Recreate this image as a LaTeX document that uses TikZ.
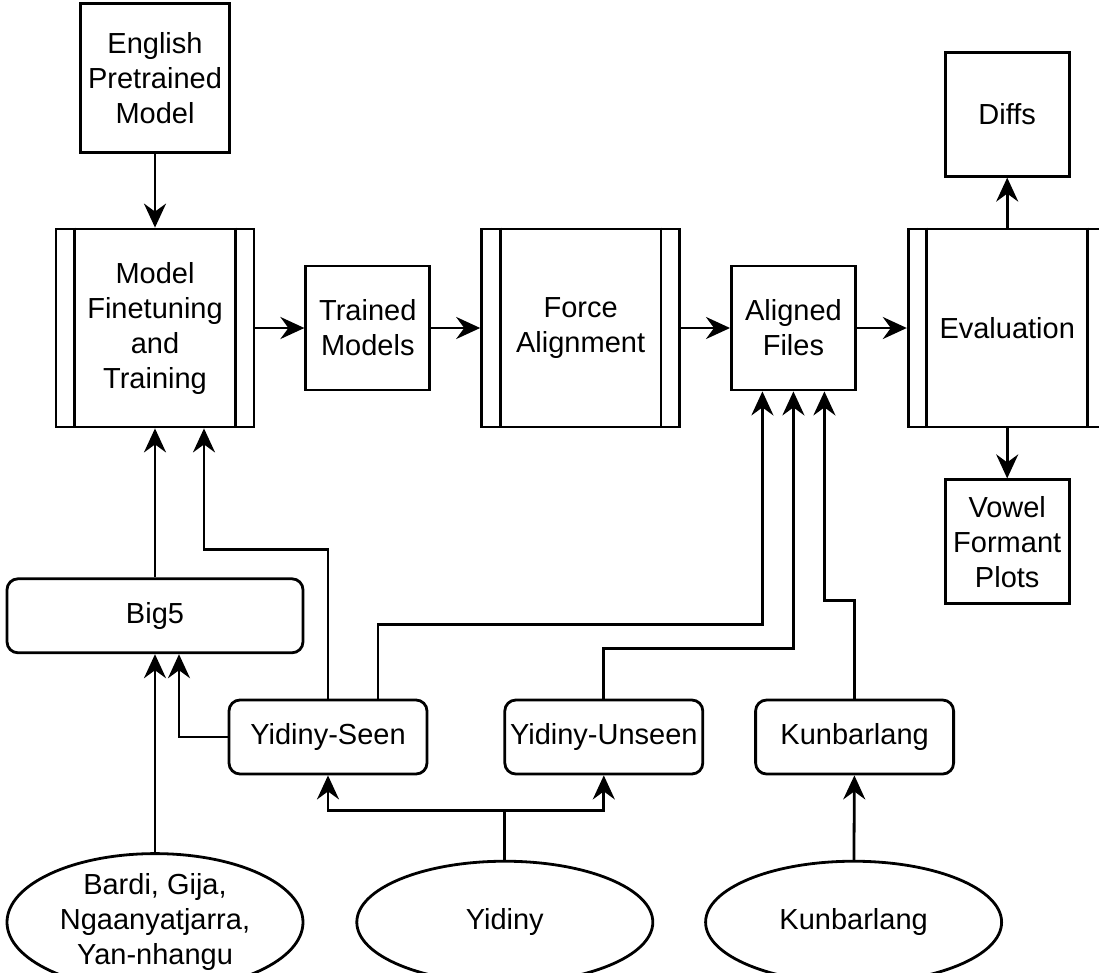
\documentclass[tikz,border=0pt]{standalone}
\usepackage{fontspec}
\setmainfont{Liberation Sans}
\usetikzlibrary{positioning}
\usetikzlibrary{shapes.geometric}
\usetikzlibrary{arrows.meta}
\tikzset{
  flow/.style={-{Stealth[length=24pt,width=22pt,inset=8pt]}},
  box/.style={draw, rectangle, inner sep=0pt, minimum width=124pt, minimum height=124pt, align=center},
  process/.style={box, minimum width=198pt, minimum height=198pt},
  corpus/.style={box, rounded corners=11pt, minimum width=198pt, minimum height=74pt},
  lang/.style={draw, ellipse, inner sep=0pt, minimum width=296pt, minimum height=122pt, align=center}
}

\begin{document}
\begin{tikzpicture}[x=1pt, y=-1pt, line width=2.8pt, font=\fontsize{29}{35}\selectfont]
  \useasboundingbox (0,0) rectangle (1099,972);
  % main pipeline
  \node[process] (ft) at (155,328) {Model\\Finetuning\\and\\Training};
  \node[box, minimum width=149pt, minimum height=149pt, above=74pt of ft] (en) {English\\Pretrained\\Model};
  \node[box, right=49pt of ft] (tm) {Trained\\Models};
  \node[process, right=49pt of tm] (fa) {Force\\Alignment};
  \node[box, right=49pt of fa] (af) {Aligned\\Files};
  \node[process, right=50pt of af] (ev) {Evaluation};
  \node[box, above=50pt of ev] (diffs) {Diffs};
  \node[box, below=50pt of ev] (vowel) {Vowel\\Formant\\Plots};
  \foreach \n in {ft,fa,ev} {
    \draw ([xshift=20pt]\n.north west) -- ([xshift=20pt]\n.south west);
    \draw ([xshift=-20pt]\n.north east) -- ([xshift=-20pt]\n.south east);
  }
  % data sets
  \node[corpus, minimum width=296pt, below=149pt of ft] (big5) {Big5};
  \node[corpus] (seen) at (328,737) {Yidiny-Seen};
  \node[corpus, right=75pt of seen] (unseen) {Yidiny-Unseen};
  \node[corpus, right=50pt of unseen] (kbset) {Kunbarlang};
  \node[lang, below=198pt of big5] (bardi) {Bardi, Gija,\\Ngaanyatjarra,\\Yan-nhangu};
  \node[lang, right=51pt of bardi] (yidiny) {Yidiny};
  \node[lang, right=50pt of yidiny] (kunbarlang) {Kunbarlang};
  % connectors
  \draw[flow] (en) -- (ft);
  \draw[flow] (ft) -- (tm);
  \draw[flow] (tm) -- (fa);
  \draw[flow] (fa) -- (af);
  \draw[flow] (af) -- (ev);
  \draw[flow] (ev) -- (diffs);
  \draw[flow] (ev) -- (vowel);
  \draw[flow] (big5) -- (ft);
  \draw[flow] (bardi) -- (big5);
  \draw[flow] (seen.north) -- ++(0,-149) -| ([xshift=49pt]ft.south);
  \draw[flow] (seen.west) -| ([xshift=24pt]big5.south);
  \draw[flow] ([xshift=50pt]seen.north) -- ++(0,-74) -| ([xshift=-31pt]af.south);
  \draw[flow] (unseen.north) -- ++(0,-50) -| (af.south);
  \draw[flow] (kbset.north) -- ++(0,-98) -| ([xshift=31pt]af.south);
  \draw (yidiny.north) -- ++(0,-49) coordinate (split);
  \draw[flow] (split) -| (seen.south);
  \draw[flow] (split) -| (unseen.south);
  \draw[flow] (kunbarlang) -- (kbset);
\end{tikzpicture}
\end{document}
